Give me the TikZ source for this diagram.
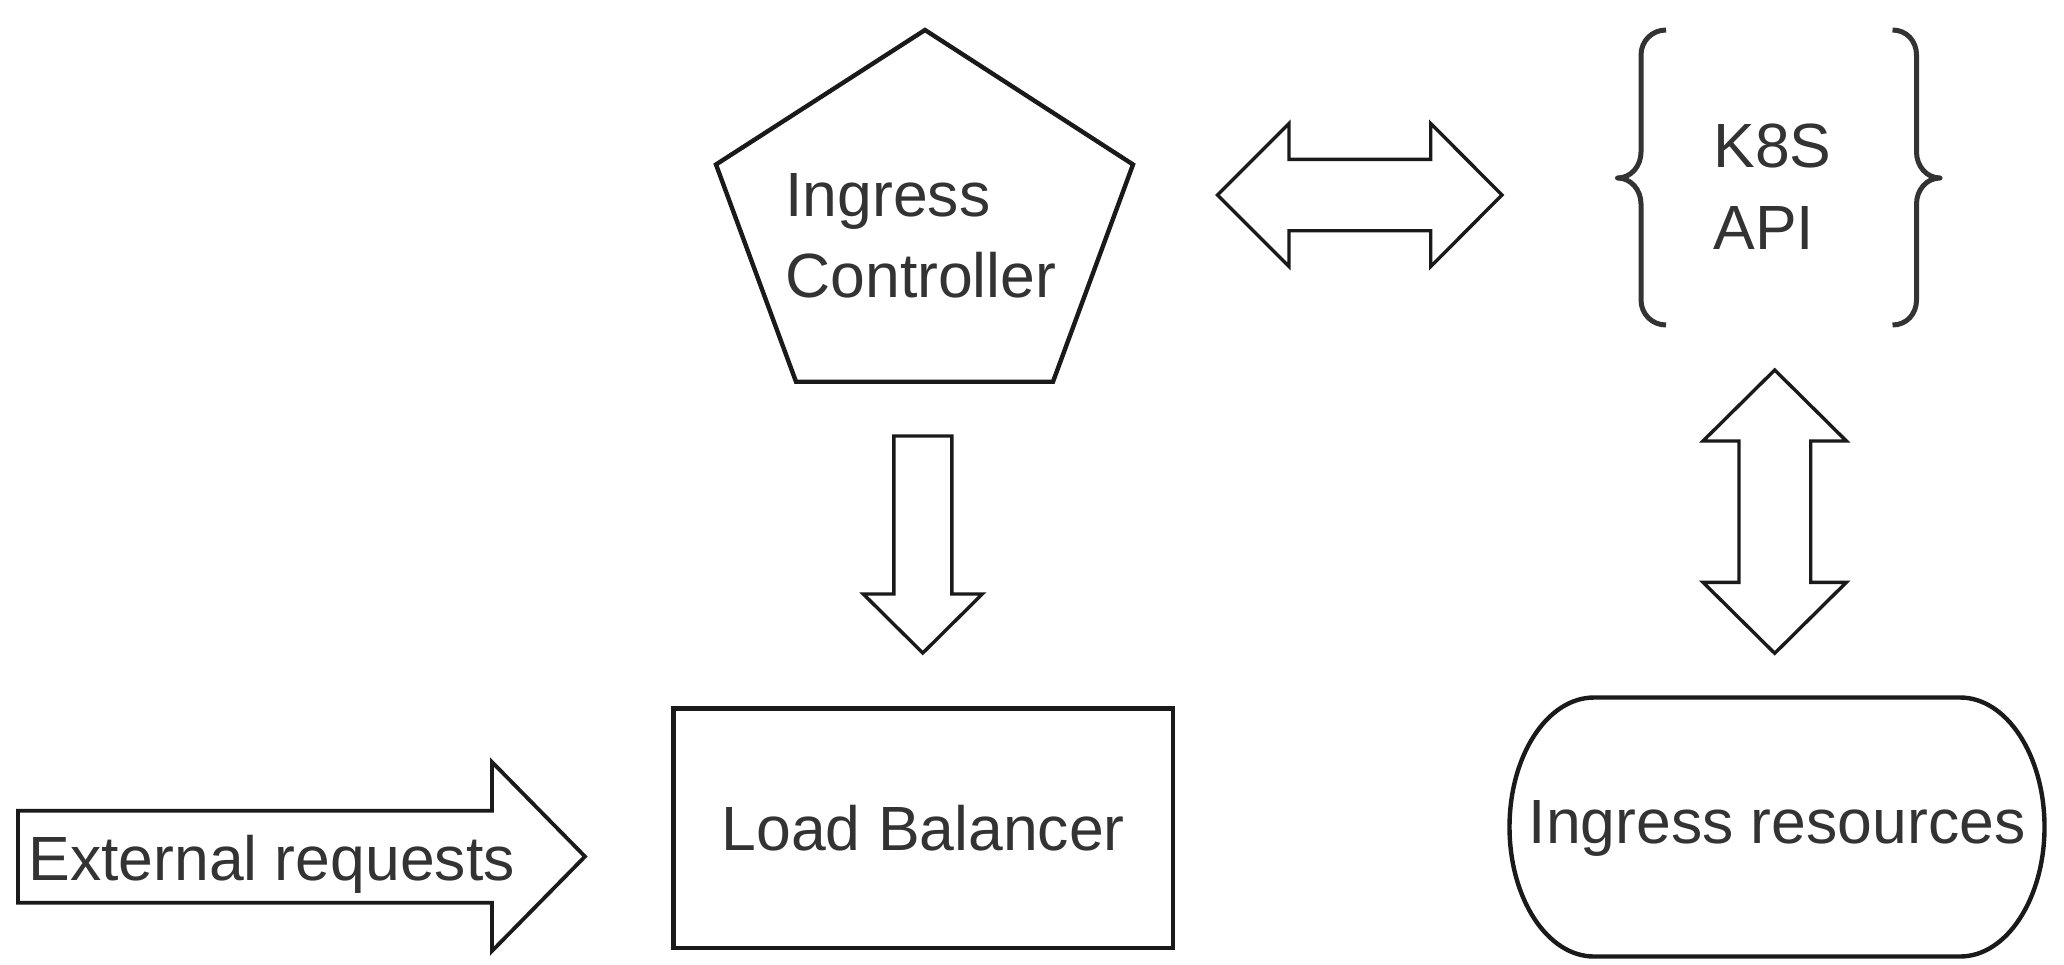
\documentclass[tikz,border=0pt]{standalone}
\usepackage{fontspec}
\setmainfont{Liberation Sans}
\definecolor{ln}{HTML}{1A1A1A}
\definecolor{tx}{HTML}{333333}
\begin{document}
\begin{tikzpicture}[x=0.5pt,y=-0.5pt,
  shapeline/.style={draw=ln, line width=2.2pt, line join=miter, fill=white},
  blockarrow/.style={draw=ln, line width=1.7pt, line join=miter, fill=white},
  bracestyle/.style={draw=tx, line width=2.5pt, line join=round},
  lbl/.style={text=tx, font=\fontsize{31.25pt}{40.75pt}\selectfont, inner sep=0pt, align=left}]
\useasboundingbox (0,0) rectangle (2064,964);

% Ingress Controller pentagon
\draw[shapeline] (925,30) -- (1133,164.5) -- (1053,381.7) -- (796,381.7) -- (716,164.5) -- cycle;
\node[lbl, anchor=base west] (ctrl) at (785,297.5) {Ingress\\Controller};

% K8S API braces
\draw[bracestyle] (1666,30) .. controls (1652,30) and (1641,41) .. (1641,55) -- (1641,152)
  .. controls (1641,166) and (1631,178) .. (1617.5,178)
  .. controls (1631,178) and (1641,190) .. (1641,204)
  -- (1641,300) .. controls (1641,314) and (1652,325) .. (1666,325);
\draw[bracestyle] (1892.5,30) .. controls (1906.5,30) and (1916.5,41) .. (1916.5,55) -- (1916.5,152)
  .. controls (1916.5,166) and (1926.5,178) .. (1940,178)
  .. controls (1926.5,178) and (1916.5,190) .. (1916.5,204)
  -- (1916.5,300) .. controls (1916.5,314) and (1906.5,325) .. (1892.5,325);
\node[lbl, anchor=base west] (k8s) at (1713,249.3) {K8S\\API};

% horizontal double block arrow
\draw[blockarrow] (1217.5,195) -- (1289,123.5) -- (1289,159.3) -- (1430.7,159.3)
  -- (1430.7,123.5) -- (1502,195) -- (1430.7,266.5) -- (1430.7,230.7)
  -- (1289,230.7) -- (1289,266.5) -- cycle;

% vertical double block arrow
\draw[blockarrow] (1774.7,370) -- (1846.4,441) -- (1810.7,441) -- (1810.7,582.3)
  -- (1846.4,582.3) -- (1774.7,653.3) -- (1703,582.3) -- (1739,582.3)
  -- (1739,441) -- (1703,441) -- cycle;

% down block arrow
\draw[blockarrow] (893.8,436) -- (951.8,436) -- (951.8,594) -- (982.3,594)
  -- (922.8,653) -- (863.3,594) -- (893.8,594) -- cycle;

% Load Balancer
\node[shapeline, minimum width=249.75pt, minimum height=119.75pt, inner sep=0pt,
  text=tx, font=\fontsize{31.25pt}{40.75pt}\selectfont] (lb) at (923.25,828.25) {Load Balancer};

% External requests block arrow
\draw[shapeline, line width=1.9pt] (18,810.7) -- (492,810.7) -- (492,762) -- (585,856.5)
  -- (492,951) -- (492,902.7) -- (18,902.7) -- cycle;
\node[lbl, anchor=base west] (ext) at (28,880) {External requests};

% Ingress resources terminator
\draw[shapeline] (1594,697.5) -- (1960,697.5) arc[start angle=90, end angle=-90, x radius=84.5, y radius=-129.5]
  -- (1594,956.5) arc[start angle=270, end angle=90, x radius=84.5, y radius=-129.5] -- cycle;
\node[lbl, anchor=base] (res) at (1777,843) {Ingress resources};
\end{tikzpicture}
\end{document}
